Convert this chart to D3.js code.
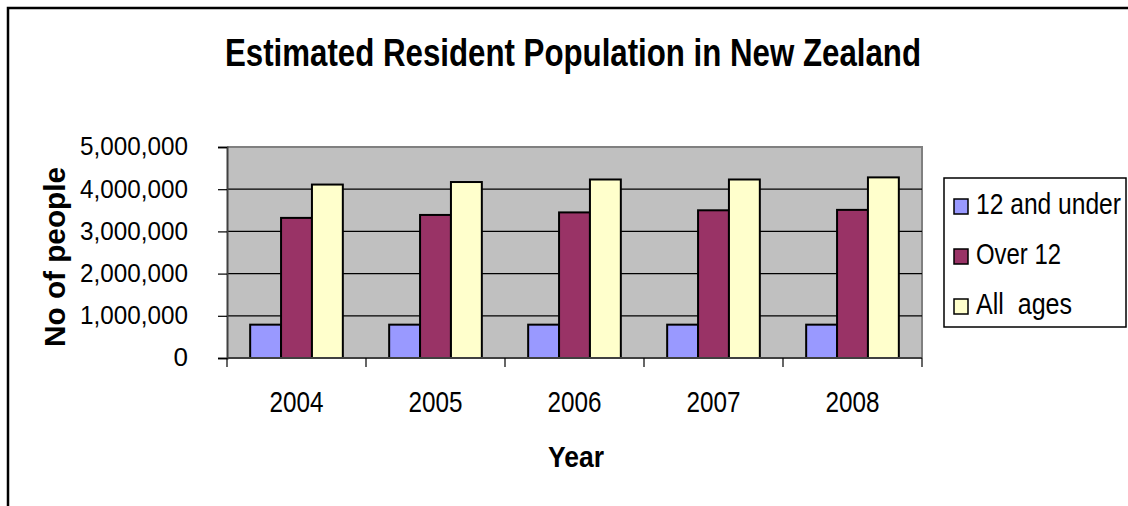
<!DOCTYPE html>
<html>
<head>
<meta charset="utf-8">
<script src="https://cdn.jsdelivr.net/npm/d3@7"></script>
<style>
  body { margin: 0; background: #fff; }
  svg { display: block; font-family: "Liberation Sans", Arial, sans-serif; }
</style>
</head>
<body>
<div id="chart"></div>
<script>
// chart data
const years = ['2004', '2005', '2006', '2007', '2008'];
const seriesNames = ['12 and under', 'Over 12', 'All  ages'];
const under12 = [790000, 790000, 790000, 790000, 790000];
const over12 = [3320000, 3390000, 3450000, 3500000, 3510000];
const allAges = [4110000, 4170000, 4230000, 4230000, 4280000];
const yTicks = [0, 1000000, 2000000, 3000000, 4000000, 5000000];
const colors = ['#9999FF', '#993366', '#FFFFCC'];

const W = 1128, H = 506;
const plot = { left: 227, top: 147, right: 922, bottom: 358 };

const svg = d3.select('#chart').append('svg')
    .attr('width', W)
    .attr('height', H);

// outer chart border (right/bottom run off the picture)
svg.append('rect')
    .attr('x', 8).attr('y', 8)
    .attr('width', W + 20).attr('height', H + 20)
    .attr('fill', '#fff')
    .attr('stroke', '#000')
    .attr('stroke-width', 2.5);

// title
svg.append('text')
    .attr('x', 573).attr('y', 66)
    .attr('text-anchor', 'middle')
    .attr('font-size', 38)
    .attr('font-weight', 'bold')
    .attr('textLength', 696)
    .attr('lengthAdjust', 'spacingAndGlyphs')
    .text('Estimated Resident Population in New Zealand');

const x0 = d3.scaleBand()
    .domain(years)
    .range([plot.left, plot.right]);

const groupW = x0.bandwidth() * 3 / 4.5;
const x1 = d3.scaleBand()
    .domain(seriesNames)
    .range([0, groupW]);

const y = d3.scaleLinear()
    .domain([0, 5000000])
    .range([plot.bottom, plot.top]);

// plot area
svg.append('rect')
    .attr('x', plot.left).attr('y', plot.top)
    .attr('width', plot.right - plot.left)
    .attr('height', plot.bottom - plot.top)
    .attr('fill', '#C0C0C0');

svg.append('path')
    .attr('d', `M${plot.left},${plot.top}H${plot.right}V${plot.bottom}`)
    .attr('fill', 'none')
    .attr('stroke', '#808080')
    .attr('stroke-width', 2);

// gridlines
svg.append('g')
    .selectAll('line')
    .data(yTicks.filter(d => d > 0 && d < 5000000))
    .enter().append('line')
    .attr('x1', plot.left).attr('x2', plot.right)
    .attr('y1', d => y(d)).attr('y2', d => y(d))
    .attr('stroke', '#000')
    .attr('stroke-width', 1.2);

// bars
const seriesData = [under12, over12, allAges];
const groups = svg.append('g')
    .selectAll('g')
    .data(years)
    .enter().append('g')
    .attr('transform', d => `translate(${x0(d) + (x0.bandwidth() - groupW) / 2},0)`);

groups.selectAll('rect')
    .data((d, i) => seriesNames.map((s, j) => ({ s, j, v: seriesData[j][i] })))
    .enter().append('rect')
    .attr('x', d => x1(d.s))
    .attr('y', d => y(d.v))
    .attr('width', x1.bandwidth())
    .attr('height', d => y(0) - y(d.v))
    .attr('fill', d => colors[d.j])
    .attr('stroke', '#000')
    .attr('stroke-width', 2);

// y axis
const yAxis = d3.axisLeft(y)
    .tickValues(yTicks)
    .tickSize(9)
    .tickPadding(30)
    .tickFormat(d3.format(','));

const gy = svg.append('g')
    .attr('transform', `translate(${plot.left},0)`)
    .call(yAxis);
gy.select('.domain').attr('stroke', '#404040').attr('stroke-width', 2);
gy.selectAll('.tick line').attr('stroke', '#000').attr('stroke-width', 1.2);
gy.selectAll('.tick text')
    .attr('font-size', 26)
    .attr('font-family', '"Liberation Sans", Arial, sans-serif')
    .attr('fill', '#000')
    .attr('dy', '0.3em')
    .attr('textLength', d => d === 0 ? null : 108)
    .attr('lengthAdjust', 'spacingAndGlyphs');

// x axis
const xTickPos = d3.range(years.length + 1).map(i => plot.left + i * x0.step());
svg.append('line')
    .attr('x1', plot.left).attr('x2', plot.right)
    .attr('y1', plot.bottom).attr('y2', plot.bottom)
    .attr('stroke', '#404040')
    .attr('stroke-width', 2);

svg.append('g')
    .selectAll('line')
    .data(xTickPos)
    .enter().append('line')
    .attr('x1', d => d).attr('x2', d => d)
    .attr('y1', plot.bottom).attr('y2', plot.bottom + 9)
    .attr('stroke', '#000')
    .attr('stroke-width', 1.2);

svg.append('g')
    .selectAll('text')
    .data(years)
    .enter().append('text')
    .attr('x', d => x0(d) + x0.bandwidth() / 2)
    .attr('y', 412)
    .attr('text-anchor', 'middle')
    .attr('font-size', 30)
    .attr('textLength', 54)
    .attr('lengthAdjust', 'spacingAndGlyphs')
    .text(d => d);

// axis titles
svg.append('text')
    .attr('x', 576).attr('y', 467)
    .attr('text-anchor', 'middle')
    .attr('font-size', 30)
    .attr('font-weight', 'bold')
    .attr('textLength', 56)
    .attr('lengthAdjust', 'spacingAndGlyphs')
    .text('Year');

svg.append('text')
    .attr('transform', 'translate(65,257) rotate(-90)')
    .attr('text-anchor', 'middle')
    .attr('font-size', 30)
    .attr('font-weight', 'bold')
    .attr('textLength', 180)
    .attr('lengthAdjust', 'spacingAndGlyphs')
    .text('No of people');

// legend
const legend = svg.append('g');
legend.append('rect')
    .attr('x', 944).attr('y', 178)
    .attr('width', 182).attr('height', 149)
    .attr('fill', '#fff')
    .attr('stroke', '#000')
    .attr('stroke-width', 1.5);

const legendLen = [145, 85, 96];
const items = legend.selectAll('g.item')
    .data(seriesNames)
    .enter().append('g')
    .attr('class', 'item')
    .attr('transform', (d, i) => `translate(0,${206 + i * 50})`);

items.append('rect')
    .attr('x', 954).attr('y', -7)
    .attr('width', 14).attr('height', 15)
    .attr('fill', (d, i) => colors[i])
    .attr('stroke', '#000')
    .attr('stroke-width', 1.5);

items.append('text')
    .attr('x', 976).attr('y', 8)
    .attr('font-size', 29)
    .attr('textLength', (d, i) => legendLen[i])
    .attr('lengthAdjust', 'spacingAndGlyphs')
    .style('white-space', 'pre')
    .text(d => d);
</script>
</body>
</html>
